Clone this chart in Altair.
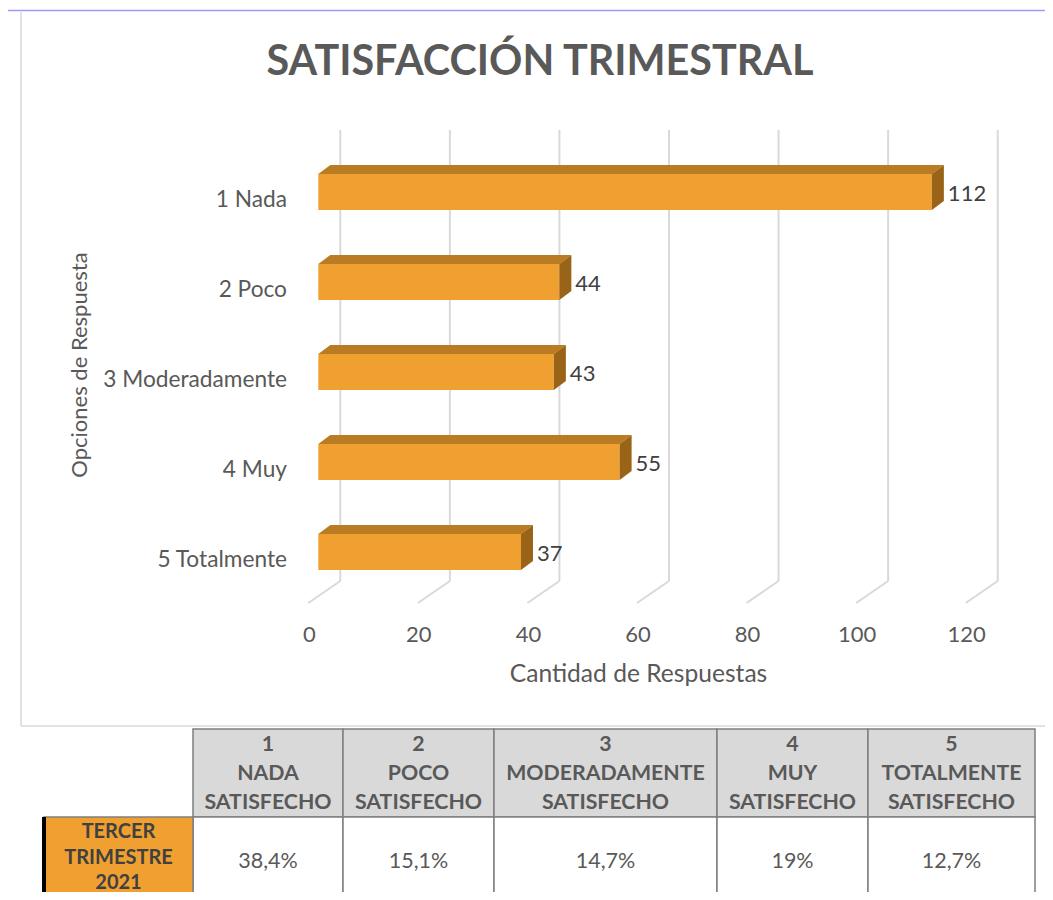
import altair as alt
import pandas as pd

# ---------------- data ----------------
CATEGORIES = ["1 Nada", "2 Poco", "3 Moderadamente", "4 Muy", "5 Totalmente"]
VALUES = [112, 44, 43, 55, 37]
X_TICKS = [0, 20, 40, 60, 80, 100, 120]
TITLE = "SATISFACCIÓN TRIMESTRAL"
X_TITLE = "Cantidad de Respuestas"
Y_TITLE = "Opciones de Respuesta"
TABLE_HEADERS = ["1\nNADA\nSATISFECHO", "2\nPOCO\nSATISFECHO", "3\nMODERADAMENTE\nSATISFECHO",
                 "4\nMUY\nSATISFECHO", "5\nTOTALMENTE\nSATISFECHO"]
TABLE_ROW_LABEL = "TERCER\nTRIMESTRE\n2021"
TABLE_PERCENTS = ["38,4%", "15,1%", "14,7%", "19%", "12,7%"]

# ---------------- layout / style ----------------
W, H = 1037, 884
FONT = "Lato"
TXT = "#595959"
DARK = "#404040"
FRONT = "#f0a030"
TOP = "#b97c22"
SIDE = "#9a6418"
GRID = "#d9d9d9"
X_RANGE = [310.3, 967.7]          # value axis (front plane)
Y_RANGE = [184, 544]              # bar centres
PX_PER_UNIT = (X_RANGE[1] - X_RANGE[0]) / 120
DX = 12 / PX_PER_UNIT             # bar depth (x) in data units
DY = 9 / 90                       # bar depth (y) in index units
HALF = 18 / 90                    # half bar thickness in index units

xs = alt.Scale(domain=[0, 120], range=X_RANGE, nice=False, zero=False)
ys = alt.Scale(domain=[0, 4], range=Y_RANGE, nice=False, zero=False)

bars = pd.DataFrame({"cat": CATEGORIES, "value": VALUES, "idx": list(range(len(CATEGORIES)))})
bars["zero"] = 0
bars["ytop"] = bars["idx"] - HALF
bars["ybot"] = bars["idx"] + HALF

top_rows, side_rows = [], []
for c, v, i in zip(CATEGORIES, VALUES, range(len(CATEGORIES))):
    top_rows.append({"cat": c, "y": i - HALF, "xl": 0, "xr": v})
    top_rows.append({"cat": c, "y": i - HALF - DY, "xl": DX, "xr": v + DX})
    side_rows.append({"cat": c, "x": v, "yt": i - HALF, "yb": i + HALF})
    side_rows.append({"cat": c, "x": v + DX, "yt": i - HALF - DY, "yb": i + HALF - DY})
top_df = pd.DataFrame(top_rows)
side_df = pd.DataFrame(side_rows)
ticks = pd.DataFrame({"t": X_TICKS})

# gridlines (back wall + floor)
grid_v = alt.Chart(ticks).mark_rule(color=GRID, strokeWidth=2, xOffset=22).encode(
    x=alt.X("t:Q", scale=xs, axis=None), y=alt.value(122), y2=alt.value(573))
grid_d = alt.Chart(ticks).mark_rule(color=GRID, strokeWidth=2, xOffset=22, x2Offset=-10).encode(
    x=alt.X("t:Q", scale=xs, axis=None), x2="t:Q", y=alt.value(573), y2=alt.value(595))

front = alt.Chart(bars).mark_rect(color=FRONT).encode(
    x=alt.X("zero:Q", scale=xs, axis=None), x2="value:Q",
    y=alt.Y("ytop:Q", scale=ys, axis=None), y2="ybot:Q")
topf = alt.Chart(top_df).mark_area(orient="horizontal", color=TOP).encode(
    y=alt.Y("y:Q", scale=ys, axis=None),
    x=alt.X("xl:Q", scale=xs, axis=None, stack=None), x2="xr:Q", detail="cat:N")
sidef = alt.Chart(side_df).mark_area(orient="vertical", color=SIDE).encode(
    x=alt.X("x:Q", scale=xs, axis=None),
    y=alt.Y("yt:Q", scale=ys, axis=None, stack=None), y2="yb:Q", detail="cat:N")

val_labels = alt.Chart(bars).mark_text(align="left", dx=16, dy=1.5, font=FONT, fontSize=22, color=DARK).encode(
    x=alt.X("value:Q", scale=xs, axis=None), y=alt.Y("idx:Q", scale=ys, axis=None), text="value:Q")
cat_labels = alt.Chart(bars).mark_text(align="right", dy=7.5, font=FONT, fontSize=22.7, color=TXT).encode(
    x=alt.value(279), y=alt.Y("idx:Q", scale=ys, axis=None), text="cat:N")
tick_labels = alt.Chart(ticks).mark_text(dx=-9, font=FONT, fontSize=22, color=TXT).encode(
    x=alt.X("t:Q", scale=xs, axis=None), y=alt.value(627), text="t:Q")

titles = pd.DataFrame({"title": [TITLE], "xt": [X_TITLE], "yt": [Y_TITLE]})
title = alt.Chart(titles).mark_text(font=FONT, fontSize=41.3, fontWeight="bold", color=TXT).encode(
    x=alt.value(532), y=alt.value(55), text="title:N")
xtitle = alt.Chart(titles).mark_text(font=FONT, fontSize=24.6, color=TXT).encode(
    x=alt.value(630.5), y=alt.value(667), text="xt:N")
ytitle = alt.Chart(titles).mark_text(font=FONT, fontSize=22, color=TXT, angle=270).encode(
    x=alt.value(72), y=alt.value(357), text="yt:N")

# frame lines
frame = pd.DataFrame({"k": [0]})
blue_top = alt.Chart(frame).mark_rule(color="#9b9bf5", strokeWidth=1.5).encode(
    x=alt.value(0), x2=alt.value(W), y=alt.value(2.5))
gray_left = alt.Chart(frame).mark_rule(color=GRID, strokeWidth=1.5).encode(
    x=alt.value(13), y=alt.value(4), y2=alt.value(718))
gray_bottom = alt.Chart(frame).mark_rule(color=GRID, strokeWidth=1.5).encode(
    x=alt.value(13), x2=alt.value(W), y=alt.value(718))

# ---------------- table ----------------
tx = alt.Scale(domain=[-1, 0, 1, 2, 3, 4, 5], range=[36, 185, 335, 486, 709, 860, 1027], nice=False, zero=False)
ty = alt.Scale(domain=[0, 1, 2], range=[721, 809, 892], nice=False, zero=False)
cells = []
for i, (h, p) in enumerate(zip(TABLE_HEADERS, TABLE_PERCENTS)):
    cells.append({"c0": i, "c1": i + 1, "cm": i + 0.5, "r0": 0, "r1": 1, "rm": 0.5, "txt": h, "kind": "head"})
    cells.append({"c0": i, "c1": i + 1, "cm": i + 0.5, "r0": 1, "r1": 2, "rm": 1.5, "txt": p, "kind": "val"})
cells.append({"c0": -1, "c1": 0, "cm": -0.5, "r0": 1, "r1": 2, "rm": 1.5, "txt": TABLE_ROW_LABEL, "kind": "row"})
cells_df = pd.DataFrame(cells)

cell_rect = alt.Chart(cells_df).mark_rect(stroke="#7f7f7f", strokeWidth=1.5).encode(
    x=alt.X("c0:Q", scale=tx, axis=None), x2="c1:Q",
    y=alt.Y("r0:Q", scale=ty, axis=None), y2="r1:Q",
    fill=alt.Fill("kind:N", scale=alt.Scale(domain=["head", "val", "row"],
                                            range=["#d9d9d9", "#ffffff", FRONT]), legend=None))
row_border = alt.Chart(cells_df[cells_df.kind == "row"]).mark_rule(color="#000000", strokeWidth=4).encode(
    x=alt.X("c0:Q", scale=tx, axis=None), y=alt.Y("r0:Q", scale=ty, axis=None), y2="r1:Q")
head_txt = alt.Chart(cells_df[cells_df.kind == "head"]).mark_text(
    font=FONT, fontSize=21.3, fontWeight="bold", color=TXT, lineBreak="\n", lineHeight=29, dy=-28.5).encode(
    x=alt.X("cm:Q", scale=tx, axis=None), y=alt.Y("rm:Q", scale=ty, axis=None), text="txt:N")
val_txt = alt.Chart(cells_df[cells_df.kind == "val"]).mark_text(
    font=FONT, fontSize=21.5, color=TXT, dy=3.5).encode(
    x=alt.X("cm:Q", scale=tx, axis=None), y=alt.Y("rm:Q", scale=ty, axis=None), text="txt:N")
row_txt = alt.Chart(cells_df[cells_df.kind == "row"]).mark_text(
    font=FONT, fontSize=20, fontWeight="bold", color=DARK, lineBreak="\n", lineHeight=25.5, dy=-26.5).encode(
    x=alt.X("cm:Q", scale=tx, axis=None), y=alt.Y("rm:Q", scale=ty, axis=None), text="txt:N")

chart = alt.layer(
    blue_top, gray_left, gray_bottom,
    grid_v, grid_d, front, topf, sidef,
    val_labels, cat_labels, tick_labels, title, xtitle, ytitle,
    cell_rect, row_border, head_txt, val_txt, row_txt,
).resolve_scale(x="independent", y="independent", fill="independent").properties(
    width=W, height=H, autosize=alt.AutoSizeParams(type="none"), padding=0, background="white"
).configure_view(stroke=None)

chart.save("out.html", embed_options={"renderer": "svg", "actions": False})
